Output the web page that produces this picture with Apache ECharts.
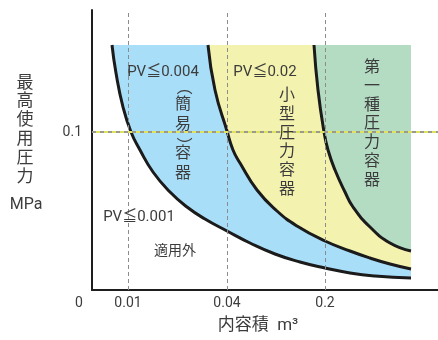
<!DOCTYPE html>
<html>
<head>
<meta charset="utf-8">
<script src="https://cdn.jsdelivr.net/npm/echarts@6.0.0/dist/echarts.min.js"></script>
<style>
html, body { margin: 0; padding: 0; background: #fff; }
#chart { width: 438px; height: 340px; }
</style>
</head>
<body>
<div id="chart"></div>
<script>
// schematic axis units (the original drawing is not to scale)
const xTickPos = [0, 36, 135, 233]
const xTickLabels = ['0', '0.01', '0.04', '0.2']
const yTickPos = [158]
const yTickLabels = ['0.1']

// top edge of the coloured zones
const REGION_TOP = 245

// PV = 0.001 boundary (bottom of 簡易容器)
const pv001 = [[20, 245], [24, 217], [31, 183], [39, 158], [48, 140], [61, 118], [78, 98], [95, 83],
  [113, 71], [135, 59], [158, 47], [183, 36], [208, 28], [233, 22], [258, 17], [283, 14], [319, 12]]
// PV = 0.004 boundary (簡易容器 / 小型圧力容器)
const pv004 = [[116, 245], [123, 200], [135, 159], [141, 140], [148, 127], [165, 100], [185, 79],
  [205, 64], [233, 49], [258, 39], [278, 32], [298, 26], [319, 21]]
// PV = 0.02 boundary (小型圧力容器 / 第一種圧力容器)
const pv02 = [[222, 245], [226, 200], [232, 158], [236, 140], [243, 120], [253, 98], [261, 83],
  [278, 63], [298, 47], [319, 39]]

const FONT = 'Roboto, "Noto Sans CJK JP", sans-serif'
const TXT = '#3c3c3c'

const chart = echarts.init(document.getElementById('chart'))

function zone(name, data, color) {
  return {
    name, type: 'line', data, smooth: 0.5, symbol: 'none', z: 3,
    lineStyle: { color: '#1b1b1b', width: 3 },
    areaStyle: { color, opacity: 1, origin: REGION_TOP },
  }
}

function vtext(x, y, text, size, lh) {
  return {
    type: 'text', x, y, z: 20,
    style: { text, font: `${size}px ${FONT}`, fill: TXT, textAlign: 'center', textVerticalAlign: 'top', lineHeight: lh },
  }
}

function htext(x, y, text, size, rotation = 0) {
  return {
    type: 'text', x, y, z: 20, rotation,
    style: { text, font: `${size}px ${FONT}`, fill: TXT, textAlign: 'center', textVerticalAlign: 'middle' },
  }
}

chart.setOption({
  animation: false,
  grid: { left: 92, right: 0, top: 10, bottom: 50 },
  xAxis: {
    type: 'value', min: 0, max: 346,
    name: '{a|内容積}{b|  m³}', nameLocation: 'middle', nameGap: 27,
    nameTextStyle: {
      padding: [0, 14, 0, 0],
      rich: { a: { fontSize: 17, fontFamily: FONT, color: TXT }, b: { fontSize: 17, fontFamily: FONT, color: TXT } },
    },
    axisLine: { lineStyle: { color: '#1e1e1e', width: 2 } },
    axisTick: { show: false },
    splitLine: { show: false },
    axisLabel: {
      customValues: xTickPos,
      margin: 7,
      color: TXT, fontSize: 14, fontFamily: FONT,
      formatter: v => {
        const i = xTickPos.indexOf(v)
        return i === 0 ? '{o|' + xTickLabels[0] + '}' : xTickLabels[i]
      },
      rich: { o: { padding: [0, 26, 0, 0], fontSize: 14, fontFamily: FONT, color: TXT } },
    },
  },
  yAxis: {
    type: 'value', min: 0, max: 280,
    axisLine: { show: true, lineStyle: { color: '#1e1e1e', width: 2 } },
    axisTick: { show: false },
    splitLine: { show: false },
    axisLabel: {
      customValues: yTickPos,
      margin: 10,
      color: TXT, fontSize: 14, fontFamily: FONT,
      formatter: v => yTickLabels[yTickPos.indexOf(v)],
    },
  },
  series: [
    zone('PV≦0.001', pv001, '#a9def8'),
    zone('PV≦0.004', pv004, '#f3f2ae'),
    zone('PV≦0.02', pv02, '#b4dcc3'),
    {
      type: 'line', data: [], z: 6,
      markLine: {
        silent: true, symbol: 'none', label: { show: false },
        data: [
          ...xTickPos.slice(1).map(v => ({ xAxis: v, lineStyle: { color: '#8c8c8c', width: 1, type: [4, 3] } })),
          { yAxis: yTickPos[0], lineStyle: { color: '#dfe35e', width: 2, type: 'solid' } },
          { yAxis: yTickPos[0], lineStyle: { color: '#9a9a8c', width: 2, type: [4, 4] } },
        ],
      },
    },
  ],
  graphic: [
    htext(163, 72, 'PV≦0.004', 15),
    htext(265, 72, 'PV≦0.02', 15),
    htext(139, 217, 'PV≦0.001', 15),
    htext(175, 251, '適用外', 14),
    htext(183, 87, '（', 16, -Math.PI / 2),
    vtext(183, 95, '簡\n易', 16, 20),
    htext(183, 145, '）', 16, -Math.PI / 2),
    vtext(183, 144, '容\n器', 16, 20),
    vtext(287, 87, '小\n型\n圧\n力\n容\n器', 16, 18.7),
    vtext(372, 59, '第\n一\n種\n圧\n力\n容\n器', 16, 18.7),
    vtext(25, 74, '最\n高\n使\n用\n圧\n力', 17, 18.8),
    htext(26, 205, 'MPa', 16),
  ],
})
</script>
</body>
</html>
